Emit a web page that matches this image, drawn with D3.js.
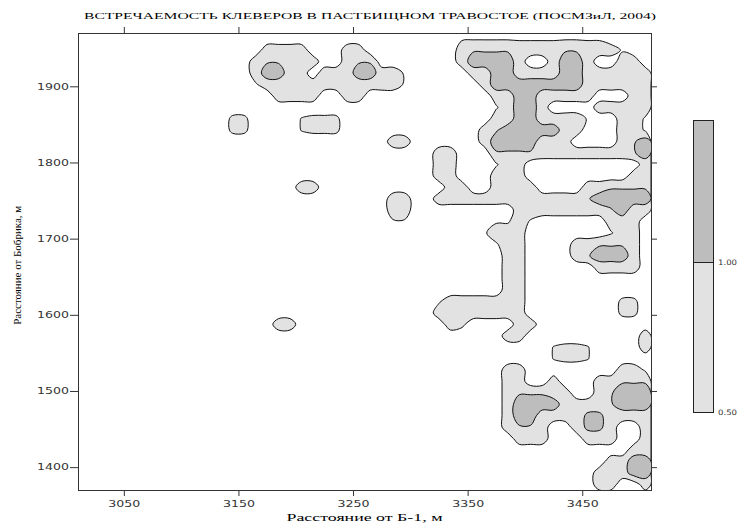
<!DOCTYPE html>
<meta charset="utf-8">
<body style="margin:0; background:#fff;">
<script src="https://d3js.org/d3.v7.min.js"></script>
<script>
  // Texts
  var chartTitle = "ВСТРЕЧАЕМОСТЬ КЛЕВЕРОВ В ПАСТБИЩНОМ ТРАВОСТОЕ (ПОСМЗиЛ, 2004)";
  var xTitle = "Расстояние от Б-1, м";
  var yTitle = "Расстояние от Бобрика, м";

  // Survey extent (m) and ticks
  var xExtent = [3010, 3510];
  var yExtent = [1370, 1970];
  var xTicks = [3050, 3150, 3250, 3350, 3450];
  var yTicks = [1400, 1500, 1600, 1700, 1800, 1900];

  // Contour levels and legend
  var levels = [0.5, 1.0];
  var legendStops = [0.5, 1.0, 1.5];
  var legendLabels = ["0.50", "1.00"];

  // Occurrence code of a grid cell
  var cellValue = {".": 0.25, "a": 0.45, "e": 0.52, "c": 0.6, "1": 0.75, "b": 0.95, "d": 1.1, "2": 1.25};

  // Grid: 50 cells of 10 m west->east, 40 rows of 15 m, north row first
  var gridRows = [
    ".................................aaaaaaaaaaaaa....",
    "................1111...11........1bbbb1111bb111a..",
    "...............1bb111..1bb.......122221..1221..11.",
    "...............12211.1112211a.....1122111122111111",
    "...............a111111111111a......122222222111111",
    ".................1111..11...........112211111...11",
    "....................................a1221....11111",
    ".............cc....eccc.............11221111a..11a",
    ".............cc....eccc............1b2222211...11a",
    "...........................11......12222111....1b2",
    "...............................11...bbbb11111111b2",
    "...............................11...a11..........1",
    "...............................11...111.........11",
    "...................11...........11..1111....11bbbbb",
    "...........................11..1111111111111b22222",
    "...........................11.........11111111b211",
    "...........................aa......aaa1a......111.",
    "...................................a111.......a11.",
    "....................................a11....11bbb1.",
    ".....................................11....1b2221.",
    ".....................................11......1111.",
    ".....................................11...........",
    ".....................................11...........",
    "...............................a1111111........cc.",
    "...............................11111111........cc.",
    ".................11.............1c....11...........",
    ".....................................11..........1",
    ".........................................ecce....1",
    ".........................................ecce.....",
    ".....................................11........11a",
    ".....................................11..1...11bbb",
    ".....................................1bbb11..1b222",
    ".....................................122221111b222",
    ".....................................1221111dd1111",
    ".....................................1bb1..1dd1..1",
    "......................................111...111..1",
    "................................................11",
    "..............................................1122",
    ".............................................11122",
    ".............................................11..1"
  ];

  var margin = {top: 33, right: 89, bottom: 35, left: 78},
      width = 740 - margin.left - margin.right,
      height = 525 - margin.top - margin.bottom;

  var lightFill = "#e2e2e2", darkFill = "#bdbdbd";

  var svg = d3.select("body").append("svg")
      .attr("width", 740)
      .attr("height", 525);

  var g = svg.append("g")
      .attr("transform", "translate(" + margin.left + "," + margin.top + ")");

  var x = d3.scaleLinear().domain(xExtent).range([0, width]);
  var y = d3.scaleLinear().domain(yExtent).range([height, 0]);

  // grid values
  var nx = 50, ny = gridRows.length;
  var values = [];
  gridRows.forEach(function(row) {
    for (var i = 0; i < nx; i++) {
      var v = cellValue[row.charAt(i)];
      values.push(v === undefined ? 0.25 : v);
    }
  });
  var cellW = (xExtent[1] - xExtent[0]) / nx,
      cellH = (yExtent[1] - yExtent[0]) / ny;

  var contours = d3.contours().size([nx, ny]).thresholds(levels)(values);

  var ringLine = d3.line()
      .x(function(p) { return x(xExtent[0] + p[0] * cellW); })
      .y(function(p) { return y(yExtent[1] - p[1] * cellH); })
      .curve(d3.curveCatmullRomClosed.alpha(0.5));

  function contourPath(mp) {
    return mp.coordinates.map(function(poly) {
      return poly.map(function(ring) { return ringLine(ring.slice(0, -1)); }).join("");
    }).join("");
  }

  g.append("clipPath").attr("id", "plot-clip")
    .append("rect").attr("width", width).attr("height", height);

  g.append("g")
      .attr("clip-path", "url(#plot-clip)")
    .selectAll("path")
    .data(contours)
    .enter().append("path")
      .attr("d", contourPath)
      .attr("fill", function(d, i) { return i === 0 ? lightFill : darkFill; })
      .attr("fill-rule", "evenodd")
      .attr("stroke", "#111")
      .attr("stroke-width", 1);

  // axes
  var tickFont = "'DejaVu Sans', Verdana, sans-serif";

  function styleAxis(sel) {
    sel.select(".domain").remove();
    sel.selectAll("line").attr("stroke", "#333");
    sel.selectAll("text")
        .attr("fill", "#333")
        .style("font-family", tickFont)
        .style("font-size", "8.5px")
        .attr("textLength", 32)
        .attr("lengthAdjust", "spacingAndGlyphs");
  }

  g.append("g")
      .attr("transform", "translate(0," + height + ")")
      .call(d3.axisBottom(x).tickValues(xTicks).tickSize(6).tickPadding(5).tickFormat(d3.format("d")))
      .call(styleAxis);
  g.append("g")
      .call(d3.axisTop(x).tickValues(xTicks).tickSize(6).tickFormat(""))
      .call(styleAxis);
  g.append("g")
      .call(d3.axisLeft(y).tickValues(yTicks).tickSize(8).tickPadding(1).tickFormat(d3.format("d")))
      .call(styleAxis);
  g.append("g")
      .attr("transform", "translate(" + width + ",0)")
      .call(d3.axisRight(y).tickValues(yTicks).tickSize(6).tickFormat(""))
      .call(styleAxis);

  g.append("rect")
      .attr("x", 0.5).attr("y", 0.5)
      .attr("width", width).attr("height", height)
      .attr("fill", "none")
      .attr("stroke", "#333");

  // titles
  var serif = "'Liberation Serif', 'Times New Roman', serif";

  svg.append("text")
      .attr("x", 370).attr("y", 19)
      .attr("text-anchor", "middle")
      .style("font-family", serif)
      .style("font-size", "9px")
      .attr("textLength", 572)
      .attr("lengthAdjust", "spacingAndGlyphs")
      .text(chartTitle);

  svg.append("text")
      .attr("x", margin.left + width / 2).attr("y", 521)
      .attr("text-anchor", "middle")
      .style("font-family", serif)
      .style("font-size", "9.5px")
      .attr("textLength", 156)
      .attr("lengthAdjust", "spacingAndGlyphs")
      .text(xTitle);

  svg.append("text")
      .attr("transform", "translate(21," + (margin.top + y(1665)) + ") rotate(-90)")
      .attr("text-anchor", "middle")
      .style("font-family", serif)
      .style("font-size", "11px")
      .attr("textLength", 119)
      .attr("lengthAdjust", "spacingAndGlyphs")
      .text(yTitle);

  // legend colour bar
  var ly = d3.scaleLinear().domain(legendStops).range([412, 262, 120]);
  var legend = svg.append("g").attr("transform", "translate(693,0)");
  legend.selectAll("rect")
      .data([[legendStops[0], legendStops[1], lightFill], [legendStops[1], legendStops[2], darkFill]])
      .enter().append("rect")
      .attr("x", 0.5)
      .attr("y", function(d) { return ly(d[1]) + 0.5; })
      .attr("width", 20)
      .attr("height", function(d) { return ly(d[0]) - ly(d[1]); })
      .attr("fill", function(d) { return d[2]; })
      .attr("stroke", "#222");
  legend.selectAll("text")
      .data(legendLabels)
      .enter().append("text")
      .attr("x", 25)
      .attr("y", function(d) { return ly(+d) + 3; })
      .style("font-family", tickFont)
      .style("font-size", "7.5px")
      .attr("fill", "#333")
      .attr("textLength", 19)
      .attr("lengthAdjust", "spacingAndGlyphs")
      .text(function(d) { return d; });
</script>
</body>
